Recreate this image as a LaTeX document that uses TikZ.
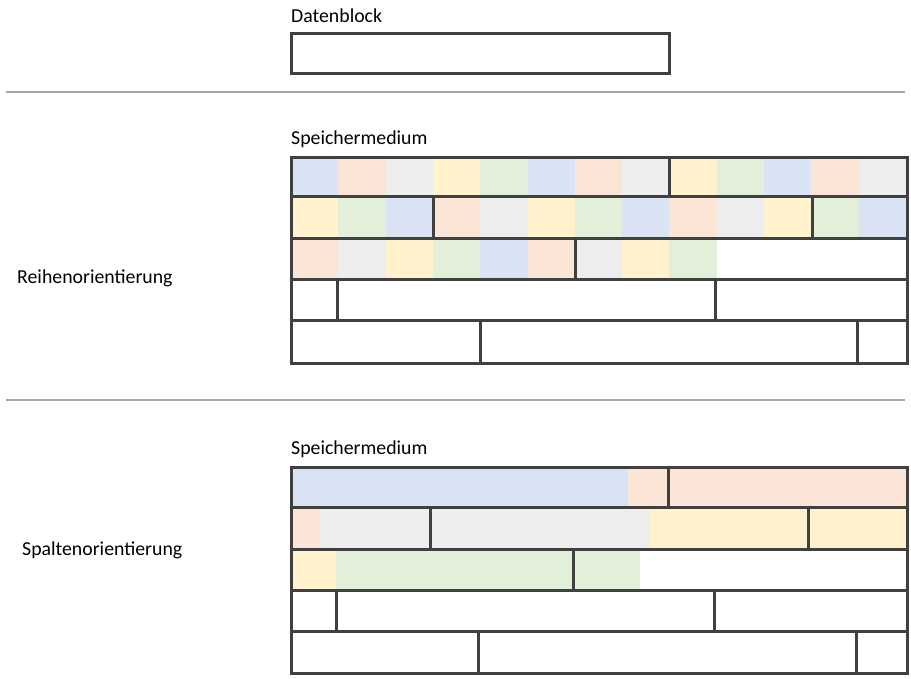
\documentclass[tikz,border=0pt]{standalone}
\usepackage{fontspec}
\setmainfont{Carlito}
\definecolor{cB}{HTML}{DAE3F3}
\definecolor{cP}{HTML}{FBE5D6}
\definecolor{cG}{HTML}{EDEDED}
\definecolor{cY}{HTML}{FFF2CC}
\definecolor{cN}{HTML}{E2F0D9}
\definecolor{ln}{HTML}{404040}
\tikzset{lbl/.style={anchor=west,inner sep=0pt,font=\fontsize{19.8}{22}\selectfont},
 frame/.style={draw=ln,line width=3pt},
 sep/.style={draw=black!35,line width=1.5pt}}
\newcommand{\cellrow}[3]{% y1 y2 colorlist
 \foreach \c [count=\i from 0] in {#3}{\fill[\c] ({291+\i*47.3},#1) rectangle ({291+(\i+1)*47.3},#2);}}
\begin{document}
\begin{tikzpicture}[x=1pt,y=-1pt]
\useasboundingbox (0,0) rectangle (911,679);
\node[lbl] (t1) at (291,16) {Datenblock};
\draw[frame] (291,34) rectangle (669,74);
\coordinate (s1a) at (6,92); \coordinate (s1b) at (905,92);
\draw[sep] (s1a) -- (s1b);
\coordinate (s2a) at (6,400); \coordinate (s2b) at (905,400);
\draw[sep] (s2a) -- (s2b);
\node[lbl] (t2) at (291,139) {Speichermedium};
\node[lbl] (t3) at (17,278) {Reihenorientierung};
\node[lbl] (t4) at (291,449) {Speichermedium};
\node[lbl] (t5) at (22,550) {Spaltenorientierung};
% row orientation
\cellrow{158}{197}{cB,cP,cG,cY,cN,cB,cP,cG,cY,cN,cB,cP,cG}
\cellrow{197}{239}{cY,cN,cB,cP,cG,cY,cN,cB,cP,cG,cY,cN,cB}
\cellrow{239}{280}{cP,cG,cY,cN,cB,cP,cG,cY,cN}
\draw[frame] (291,158) rectangle (907,363);
\foreach \y in {197,239,280,321} \draw[frame] (291,\y) -- (907,\y);
\draw[frame] (669,158) -- (669,197);
\draw[frame] (433,197) -- (433,239); \draw[frame] (812,197) -- (812,239);
\draw[frame] (575,239) -- (575,280);
\draw[frame] (337,280) -- (337,321); \draw[frame] (715,280) -- (715,321);
\draw[frame] (480,321) -- (480,363); \draw[frame] (857,321) -- (857,363);
% column orientation
\fill[cB] (291,467) rectangle (628,507);
\fill[cP] (628,467) rectangle (907,507);
\fill[cP] (291,507) rectangle (319,549);
\fill[cG] (319,507) rectangle (650,549);
\fill[cY] (650,507) rectangle (907,549);
\fill[cY] (291,549) rectangle (336,590);
\fill[cN] (336,549) rectangle (640,590);
\draw[frame] (291,467) rectangle (907,673);
\foreach \y in {507,549,590,631} \draw[frame] (291,\y) -- (907,\y);
\draw[frame] (668,467) -- (668,507);
\draw[frame] (430,507) -- (430,549); \draw[frame] (808,507) -- (808,549);
\draw[frame] (573,549) -- (573,590);
\draw[frame] (336,590) -- (336,631); \draw[frame] (714,590) -- (714,631);
\draw[frame] (478,631) -- (478,673); \draw[frame] (856,631) -- (856,673);
\end{tikzpicture}
\end{document}
